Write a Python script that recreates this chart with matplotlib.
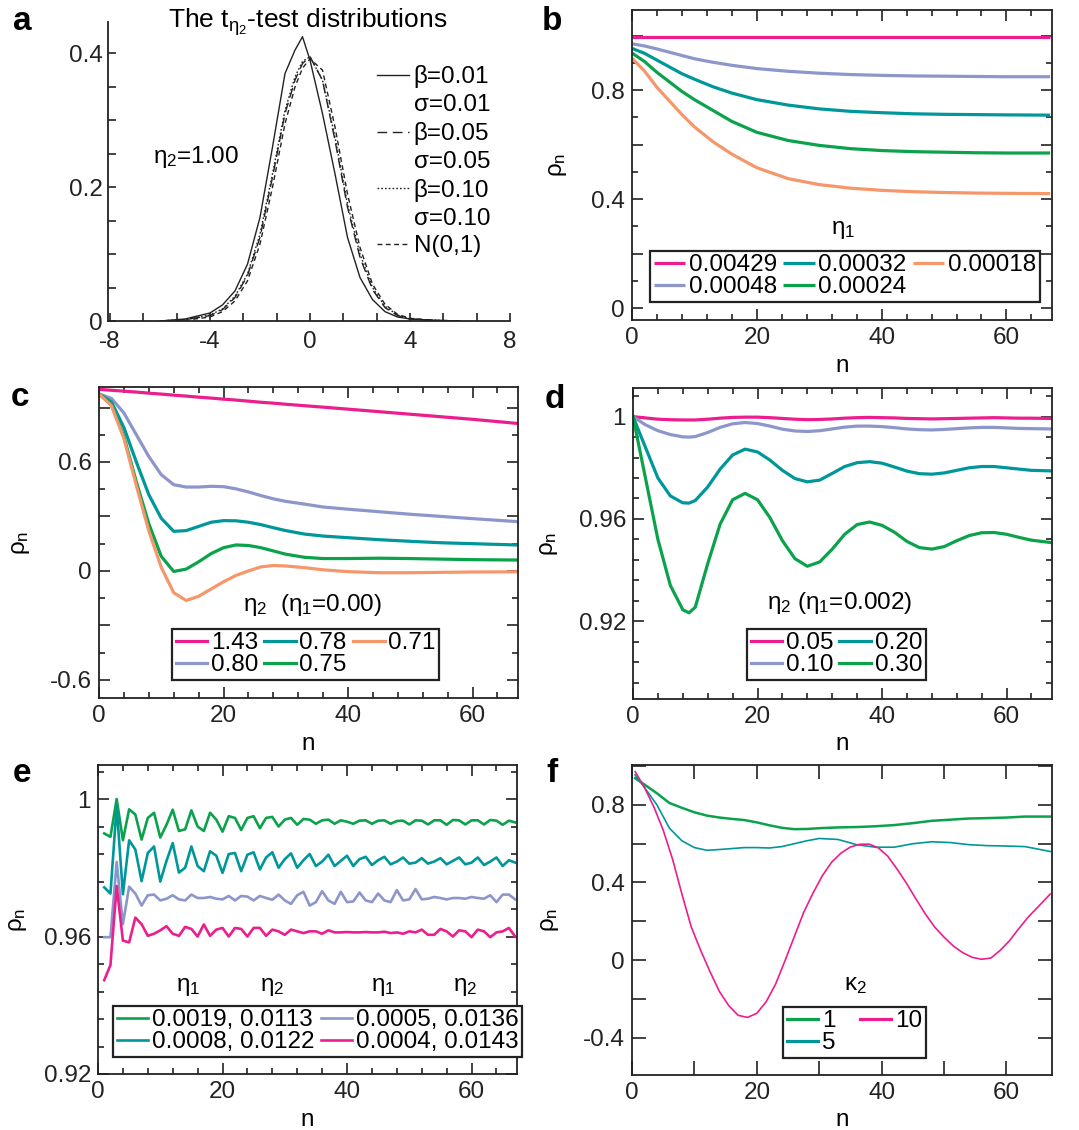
import numpy as np
import matplotlib
matplotlib.use("Agg")
import matplotlib.pyplot as plt
from matplotlib.ticker import MultipleLocator, FuncFormatter
from matplotlib.lines import Line2D

plt.rcParams['font.family'] = ['Liberation Sans', 'DejaVu Sans']
plt.rcParams['mathtext.fontset'] = 'custom'
plt.rcParams['mathtext.rm'] = 'Liberation Sans'
plt.rcParams['mathtext.it'] = 'Liberation Sans'
plt.rcParams['mathtext.bf'] = 'Liberation Sans:bold'
plt.rcParams['axes.unicode_minus'] = False
plt.rcParams['font.size'] = 17.5

magenta = '#ec1e8e'
lavender = '#8c96cb'
teal = '#00979a'
green = '#0ba24c'
orange = '#f5966b'

# ---- panel a: t-test distributions ----
xa = [-6, -5, -4, -3.5, -3, -2.5, -2, -1.5, -1, -0.6, -0.3, 0, 0.5, 1, 1.5, 2, 2.5, 3, 3.5, 4, 5, 6]
a_b001 = [0.0, 0.003, 0.012, 0.024, 0.045, 0.085, 0.155, 0.26, 0.37, 0.405, 0.425, 0.39, 0.31, 0.22,
          0.125, 0.065, 0.032, 0.014, 0.006, 0.003, 0.001, 0.0]
a_b005 = [0.0, 0.002, 0.008, 0.017, 0.035, 0.068, 0.125, 0.215, 0.31, 0.36, 0.385, 0.395, 0.36, 0.27,
          0.17, 0.095, 0.047, 0.02, 0.008, 0.003, 0.001, 0.0]
a_b010 = [0.0, 0.002, 0.009, 0.018, 0.037, 0.07, 0.13, 0.22, 0.315, 0.365, 0.388, 0.395, 0.36, 0.275,
          0.175, 0.1, 0.05, 0.022, 0.009, 0.003, 0.001, 0.0]
a_norm = [0.0, 0.001, 0.006, 0.014, 0.03, 0.06, 0.115, 0.2, 0.295, 0.35, 0.378, 0.392, 0.375, 0.29,
          0.19, 0.11, 0.055, 0.025, 0.01, 0.004, 0.001, 0.0]
a_labels = ['β=0.01', 'σ=0.01', 'β=0.05', 'σ=0.05', 'β=0.10', 'σ=0.10', 'N(0,1)']

# ---- panel b: eta_1 ----
nb = [0, 2, 4, 6, 8, 10, 13, 16, 20, 25, 30, 35, 40, 45, 50, 55, 60, 67]
b_series = {
    '0.00429': [0.995] * 2,
    '0.00048': [0.97, 0.962, 0.951, 0.939, 0.927, 0.915, 0.902, 0.891, 0.879, 0.869, 0.862, 0.857,
                0.854, 0.852, 0.851, 0.85, 0.849, 0.849],
    '0.00032': [0.953, 0.935, 0.91, 0.885, 0.86, 0.84, 0.812, 0.789, 0.765, 0.745, 0.731, 0.722,
                0.717, 0.713, 0.711, 0.71, 0.709, 0.708],
    '0.00024': [0.936, 0.905, 0.865, 0.83, 0.795, 0.765, 0.725, 0.685, 0.645, 0.615, 0.597, 0.585,
                0.578, 0.574, 0.572, 0.57, 0.569, 0.569],
    '0.00018': [0.917, 0.87, 0.81, 0.76, 0.71, 0.665, 0.61, 0.565, 0.515, 0.475, 0.453, 0.44,
                0.432, 0.427, 0.424, 0.422, 0.421, 0.42],
}
b_colors = [magenta, lavender, teal, green, orange]

# ---- panel c: eta_2 with eta_1 = 0 ----
nc = [0, 2, 4, 6, 8, 10, 12, 14, 16, 18, 20, 22, 24, 26, 28, 30, 33, 36, 40, 45, 50, 55, 60, 67]
c_series = {
    '1.43': [1.0, 0.995, 0.99, 0.985, 0.979, 0.974, 0.968, 0.963, 0.957, 0.952, 0.946, 0.941, 0.935,
             0.929, 0.924, 0.918, 0.91, 0.902, 0.891, 0.877, 0.863, 0.849, 0.835, 0.813],
    '0.80': [0.975, 0.95, 0.87, 0.75, 0.63, 0.53, 0.475, 0.462, 0.462, 0.466, 0.464, 0.452, 0.435,
             0.415, 0.397, 0.383, 0.368, 0.352, 0.34, 0.326, 0.312, 0.3, 0.288, 0.272],
    '0.78': [0.975, 0.93, 0.79, 0.6, 0.42, 0.29, 0.218, 0.222, 0.245, 0.268, 0.277, 0.276, 0.268,
             0.255, 0.238, 0.222, 0.203, 0.192, 0.183, 0.172, 0.163, 0.155, 0.15, 0.143],
    '0.75': [0.975, 0.915, 0.74, 0.49, 0.26, 0.08, -0.003, 0.01, 0.05, 0.095, 0.128, 0.143, 0.14,
             0.128, 0.11, 0.092, 0.075, 0.068, 0.068, 0.07, 0.068, 0.065, 0.062, 0.06],
    '0.71': [0.975, 0.91, 0.73, 0.47, 0.22, 0.02, -0.12, -0.163, -0.14, -0.1, -0.06, -0.025, 0.0,
             0.022, 0.03, 0.027, 0.018, 0.006, -0.004, -0.01, -0.01, -0.008, -0.006, -0.005],
}
c_colors = [magenta, lavender, teal, green, orange]

# ---- panel d: eta_2 with eta_1 = 0.002 ----
nd = [0, 2, 4, 6, 8, 9, 10, 12, 14, 16, 18, 20, 22, 24, 26, 28, 30, 32, 34, 36, 38, 40, 42, 44, 46,
      48, 50, 52, 54, 56, 58, 60, 62, 64, 67]
d_series = {
    '0.05': [1.0, 0.9995, 0.999, 0.9988, 0.9987, 0.9987, 0.9987, 0.999, 0.9994, 0.9997, 0.9998, 0.9998,
             0.9996, 0.9993, 0.999, 0.9988, 0.9989, 0.9991, 0.9994, 0.9996, 0.9997, 0.9996, 0.9995,
             0.9993, 0.9992, 0.9991, 0.9992, 0.9993, 0.9994, 0.9995, 0.9996, 0.9995, 0.9994, 0.9994,
             0.9993],
    '0.10': [1.0, 0.9968, 0.9945, 0.993, 0.9921, 0.992, 0.9922, 0.9938, 0.9958, 0.9972, 0.9977, 0.9973,
             0.9963, 0.9951, 0.9944, 0.9942, 0.9945, 0.9952, 0.9959, 0.9963, 0.9963, 0.9961, 0.9957,
             0.9952, 0.9949, 0.9948, 0.995, 0.9953, 0.9956, 0.9958, 0.9958, 0.9956, 0.9954, 0.9953,
             0.9952],
    '0.20': [1.0, 0.988, 0.976, 0.969, 0.9663, 0.9662, 0.9672, 0.9725, 0.9795, 0.985, 0.9873, 0.9862,
             0.983, 0.979, 0.9758, 0.9745, 0.9752, 0.9778, 0.9805, 0.982, 0.9824, 0.9818, 0.9803,
             0.9787, 0.9777, 0.9775, 0.978, 0.979, 0.98, 0.9805, 0.9805, 0.98, 0.9795, 0.979, 0.9788],
    '0.30': [1.0, 0.976, 0.952, 0.934, 0.9245, 0.9233, 0.9255, 0.9425, 0.958, 0.9675, 0.97, 0.9675,
             0.9605, 0.9515, 0.9445, 0.9415, 0.9432, 0.9482, 0.954, 0.9578, 0.9588, 0.9575, 0.9548,
             0.9512, 0.9488, 0.9482, 0.9492, 0.9515, 0.9535, 0.9546, 0.9547, 0.954, 0.9528, 0.9517,
             0.9508],
}
d_colors = [magenta, lavender, teal, green]

# ---- panel e: (eta_1, eta_2) pairs, one value per lag ----
ne = list(range(1, 68))
e_green = [0.990, 0.989, 1.000, 0.988, 0.997, 0.9955, 0.9882, 0.9945, 0.996, 0.9888, 0.9925, 0.9969,
           0.9907, 0.9912, 0.9967, 0.992, 0.9907, 0.996, 0.994, 0.9905, 0.995, 0.9945, 0.991, 0.9945,
           0.995, 0.9915, 0.9945, 0.9948, 0.992, 0.994, 0.9945, 0.9925, 0.9942, 0.994, 0.9928, 0.9938,
           0.994, 0.9928, 0.9938, 0.9934, 0.9928, 0.9937, 0.9938, 0.9928, 0.9937, 0.9938, 0.9928,
           0.9936, 0.9937, 0.9926, 0.9938, 0.9937, 0.9926, 0.9938, 0.9938, 0.9925, 0.9939, 0.9938,
           0.9926, 0.9938, 0.9938, 0.9926, 0.9939, 0.9937, 0.9925, 0.9937, 0.9932]
e_teal = [0.9743, 0.9725, 0.998, 0.9723, 0.988, 0.9853, 0.9761, 0.9843, 0.9862, 0.976, 0.982, 0.9872,
          0.9786, 0.98, 0.9862, 0.9805, 0.979, 0.9848, 0.9835, 0.9785, 0.984, 0.9843, 0.979, 0.9838,
          0.9845, 0.9795, 0.983, 0.9845, 0.98, 0.9825, 0.9842, 0.98, 0.9822, 0.984, 0.9805, 0.9818,
          0.9838, 0.9805, 0.982, 0.9835, 0.9805, 0.9825, 0.9832, 0.9808, 0.9822, 0.9832, 0.981,
          0.9818, 0.983, 0.9812, 0.9815, 0.9828, 0.9812, 0.9818, 0.9828, 0.981, 0.982, 0.983, 0.981,
          0.9815, 0.983, 0.9808, 0.9818, 0.983, 0.9805, 0.9822, 0.9815]
e_lavender = [0.9598, 0.9598, 0.9817, 0.9636, 0.9745, 0.9725, 0.969, 0.972, 0.9722, 0.9705, 0.971,
              0.972, 0.9708, 0.9705, 0.9722, 0.9712, 0.9712, 0.9715, 0.971, 0.9708, 0.9718, 0.9705,
              0.9718, 0.9716, 0.9705, 0.9718, 0.9712, 0.9707, 0.9722, 0.9705, 0.9695, 0.972, 0.973,
              0.969, 0.97, 0.9732, 0.9705, 0.9695, 0.973, 0.97, 0.9702, 0.9728, 0.9705, 0.97, 0.9725,
              0.9705, 0.97, 0.9735, 0.9705, 0.9708, 0.9738, 0.9708, 0.971, 0.9715, 0.9712, 0.9708,
              0.9712, 0.9712, 0.971, 0.9715, 0.9712, 0.971, 0.972, 0.97, 0.9722, 0.9722, 0.9708]
e_magenta = [0.9473, 0.9517, 0.9747, 0.9588, 0.9583, 0.9655, 0.9636, 0.9602, 0.9608, 0.9618, 0.963,
             0.9608, 0.9602, 0.9628, 0.9622, 0.96, 0.9635, 0.9602, 0.962, 0.9625, 0.96, 0.9625,
             0.9622, 0.96, 0.9625, 0.9625, 0.9602, 0.962, 0.9615, 0.9605, 0.962, 0.9615, 0.961,
             0.9615, 0.9615, 0.9608, 0.9618, 0.9612, 0.9612, 0.9613, 0.9612, 0.9612, 0.9613, 0.9612,
             0.9612, 0.9614, 0.961, 0.9612, 0.9608, 0.9615, 0.9612, 0.962, 0.9605, 0.9605, 0.9622,
             0.9615, 0.96, 0.9618, 0.9615, 0.9598, 0.962, 0.9615, 0.9598, 0.9612, 0.9615, 0.9625, 0.96]
e_labels = ['0.0019, 0.0113', '0.0008, 0.0122', '0.0005, 0.0136', '0.0004, 0.0143']

# ---- panel f: kappa_2 ----
nf_k10 = [0.5, 2, 3.5, 5, 6.5, 8, 9.5, 11, 12.5, 14, 15.5, 17, 18.5, 20, 21.5, 23, 24.5, 26, 27.5, 29,
          30.5, 32, 33.5, 35, 36.5, 38, 39.5, 41, 42.5, 44, 45.5, 47, 48.5, 50, 51.5, 53, 54.5, 56,
          57.5, 59, 60.5, 62, 63.5, 65, 67]
f_k10 = [0.972, 0.89, 0.79, 0.67, 0.52, 0.34, 0.17, 0.05, -0.06, -0.162, -0.235, -0.285, -0.296,
         -0.275, -0.215, -0.125, -0.005, 0.12, 0.245, 0.345, 0.435, 0.505, 0.552, 0.583, 0.597, 0.598,
         0.578, 0.535, 0.468, 0.395, 0.315, 0.238, 0.17, 0.118, 0.072, 0.038, 0.014, 0.004, 0.01, 0.05,
         0.1, 0.163, 0.222, 0.272, 0.34]
nf = [0.5, 2, 4, 6, 8, 10, 12, 14, 16, 18, 20, 22, 24, 26, 28, 30, 33, 36, 39, 42, 45, 48, 51, 54, 57,
      60, 63, 67]
f_k1 = [0.938, 0.905, 0.86, 0.81, 0.785, 0.762, 0.745, 0.735, 0.728, 0.722, 0.71, 0.695, 0.682, 0.675,
        0.676, 0.68, 0.684, 0.686, 0.69, 0.696, 0.706, 0.718, 0.724, 0.73, 0.732, 0.735, 0.74, 0.74]
f_k5 = [0.955, 0.89, 0.8, 0.68, 0.615, 0.58, 0.566, 0.57, 0.575, 0.58, 0.58, 0.578, 0.585, 0.6, 0.615,
        0.627, 0.622, 0.595, 0.582, 0.582, 0.6, 0.61, 0.606, 0.595, 0.59, 0.588, 0.585, 0.56]

W, H = 1079, 1130
fig = plt.figure(figsize=(W / 100, H / 100), dpi=100)


def add_box(l, t, r, b):
    return fig.add_axes([l / W, 1 - b / H, (r - l) / W, (b - t) / H])


def labeled(values):
    def fmt(v, pos):
        for s in values:
            if abs(v - s) < 1e-6:
                return '%g' % round(v, 6)
        return ''
    return FuncFormatter(fmt)


def style(ax, xmaj, xmin, xlabs, ymaj, ymin, ylabs, box=True):
    ax.xaxis.set_major_locator(MultipleLocator(xmaj))
    ax.yaxis.set_major_locator(MultipleLocator(ymaj))
    if xmin:
        ax.xaxis.set_minor_locator(MultipleLocator(xmin))
    if ymin:
        ax.yaxis.set_minor_locator(MultipleLocator(ymin))
    ax.xaxis.set_major_formatter(labeled(xlabs))
    ax.yaxis.set_major_formatter(labeled(ylabs))
    ax.tick_params(which='both', direction='in', top=box, right=box, width=1.2, colors='#222222',
                   labelcolor='#222222', labelsize=17.5)
    ax.tick_params(which='major', length=8, pad=5)
    ax.tick_params(which='minor', length=4)
    for s in ax.spines.values():
        s.set_linewidth(1.3)
        s.set_color('#222222')


def series_legend(ax, handles, labels, ncol, anchor, colsp=0.25):
    leg = ax.legend(handles, labels, ncol=ncol, loc='lower left', bbox_to_anchor=anchor,
                    borderaxespad=0, frameon=True, fancybox=False, framealpha=1,
                    edgecolor='#222222', handlelength=1.3, handletextpad=0.15, columnspacing=colsp,
                    labelspacing=0.0, borderpad=0.15, fontsize=17.5)
    leg.get_frame().set_linewidth(1.6)
    return leg


def axis_labels(ax, ylx=-0.16):
    ax.set_xlabel('n', labelpad=4)
    ax.set_ylabel(r'$\rho_\mathrm{n}$', labelpad=0)
    ax.yaxis.set_label_coords(ylx, 0.5)


# ---- a ----
ax = add_box(108, 22, 510, 321)
ax.plot(xa, a_b001, c='#222222', lw=1.0, ls='-')
ax.plot(xa, a_b005, c='#222222', lw=1.0, ls=(0, (7, 4)))
ax.plot(xa, a_b010, c='#222222', lw=1.0, ls=(0, (1.2, 1.5)))
ax.plot(xa, a_norm, c='#222222', lw=1.0, ls=(0, (3.5, 2.5)))
ax.set_xlim(-8.08, 8.0)
ax.set_ylim(0, 0.447)
style(ax, 4, 4 / 3, [-8, -4, 0, 4, 8], 0.2, 0.05, [0, 0.2, 0.4], box=False)
ax.tick_params(which='both', length=6)
ax.tick_params(axis='y', pad=4)
ax.tick_params(axis='x', pad=7)
ax.spines['top'].set_visible(False)
ax.spines['right'].set_visible(False)
fig.text(308 / W, 1 - 28 / H, r'The $\mathrm{t}_{\eta_2}$-test distributions', fontsize=19,
         ha='center', va='baseline')
ax.text(-4.56, 0.245, r'$\eta_2$=1.00', ha='center', va='center')
blank = Line2D([], [], ls='none')
styles = ['-', (0, (7, 4)), (0, (1.2, 1.5)), (0, (3.5, 2.5))]
hs = [Line2D([], [], c='#222222', lw=1.0, ls=s) for s in styles]
leg = ax.legend([hs[0], blank, hs[1], blank, hs[2], blank, hs[3]], a_labels, loc='upper left',
                bbox_to_anchor=(0.67, 0.855), frameon=False, handlelength=1.3, handletextpad=0.2,
                labelspacing=0.24, borderpad=0, borderaxespad=0, fontsize=17.5)

# ---- b ----
ax = add_box(632, 10, 1052, 320)
hs = []
for (lab, vals), col in zip(b_series.items(), b_colors):
    xs = [nb[0], nb[-1]] if len(vals) == 2 else nb
    hs += ax.plot(xs, vals, c=col, lw=2.3, label=lab, solid_capstyle='butt')
ax.set_xlim(0, 67.3)
ax.set_ylim(-0.044, 1.094)
style(ax, 20, 4, [0, 20, 40, 60], 0.2, 0.1, [0, 0.4, 0.8])
axis_labels(ax, -0.15)
series_legend(ax, hs, list(b_series), 3, (0.043, 0.058))
ax.text(0.502, 0.29, r'$\eta_1$', transform=ax.transAxes, ha='center', va='center')

# ---- c ----
ax = add_box(99, 387, 518, 698)
hs = []
for (lab, vals), col in zip(c_series.items(), c_colors):
    hs += ax.plot(nc, vals, c=col, lw=2.3, label=lab)
ax.set_xlim(0, 67.3)
ax.set_ylim(-0.7, 1.013)
style(ax, 20, 4, [0, 20, 40, 60], 0.3, 0.15, [-0.6, 0, 0.6])
axis_labels(ax, -0.16)
series_legend(ax, hs, list(c_series), 3, (0.174, 0.058))
ax.text(0.508, 0.299, r'$\eta_2$  ($\eta_1$=0.00)', transform=ax.transAxes, ha='center', va='center')

# ---- d ----
ax = add_box(633, 388, 1052, 699)
hs = []
for (lab, vals), col in zip(d_series.items(), d_colors):
    hs += ax.plot(nd, vals, c=col, lw=2.3, label=lab)
ax.set_xlim(0, 67.3)
ax.set_ylim(0.8896, 1.0112)
style(ax, 20, 4, [0, 20, 40, 60], 0.04, 0.008, [0.92, 0.96, 1.0])
axis_labels(ax, -0.175)
series_legend(ax, hs, list(d_series), 2, (0.272, 0.061))
ax.text(0.494, 0.309, r'$\eta_2$ ($\eta_1$=0.002)', transform=ax.transAxes, ha='center', va='center')

# ---- e ----
ax = add_box(98, 765, 517, 1074)
hs = []
for vals, col in zip([e_green, e_teal, e_lavender, e_magenta], [green, teal, lavender, magenta]):
    hs += ax.plot(ne, vals, c=col, lw=1.9)
ax.set_xlim(0, 67.3)
ax.set_ylim(0.92, 1.0099)
style(ax, 20, 4, [0, 20, 40, 60], 0.04, 0.008, [0.92, 0.96, 1.0])
axis_labels(ax, -0.165)
series_legend(ax, hs, e_labels, 2, (0.036, 0.055))
for xf, s in zip([0.215, 0.415, 0.68, 0.876], [r'$\eta_1$', r'$\eta_2$', r'$\eta_1$', r'$\eta_2$']):
    ax.text(xf, 0.28, s, transform=ax.transAxes, ha='center', va='center')

# ---- f ----
ax = add_box(632, 765, 1052, 1075)
h1, = ax.plot(nf, f_k1, c=green, lw=1.8)
h5, = ax.plot(nf, f_k5, c=teal, lw=1.2)
h10, = ax.plot(nf_k10, f_k10, c=magenta, lw=1.2)
ax.set_xlim(0, 67.3)
ax.set_ylim(-0.593, 1.006)
style(ax, 10, None, [0, 20, 40, 60], 0.2, None, [-0.4, 0, 0.4, 0.8])
ax.tick_params(which='major', length=10)
axis_labels(ax, -0.17)
hs = [Line2D([], [], c=green, lw=2.3), Line2D([], [], c=teal, lw=2.3), Line2D([], [], c=magenta, lw=2.3)]
series_legend(ax, hs, ['1', '5', '10'], 2, (0.36, 0.055), colsp=1.0)
ax.text(0.531, 0.29, r'$\kappa_2$', transform=ax.transAxes, ha='center', va='center')

# panel letters
for s, x, y in [('a', 22, 21), ('b', 552, 22), ('c', 20, 398), ('d', 555, 400), ('e', 22, 773), ('f', 552, 773)]:
    fig.text(x / W, 1 - y / H, s, fontsize=24, fontweight='bold', ha='center', va='center')

fig.savefig('out.png', dpi=100)
